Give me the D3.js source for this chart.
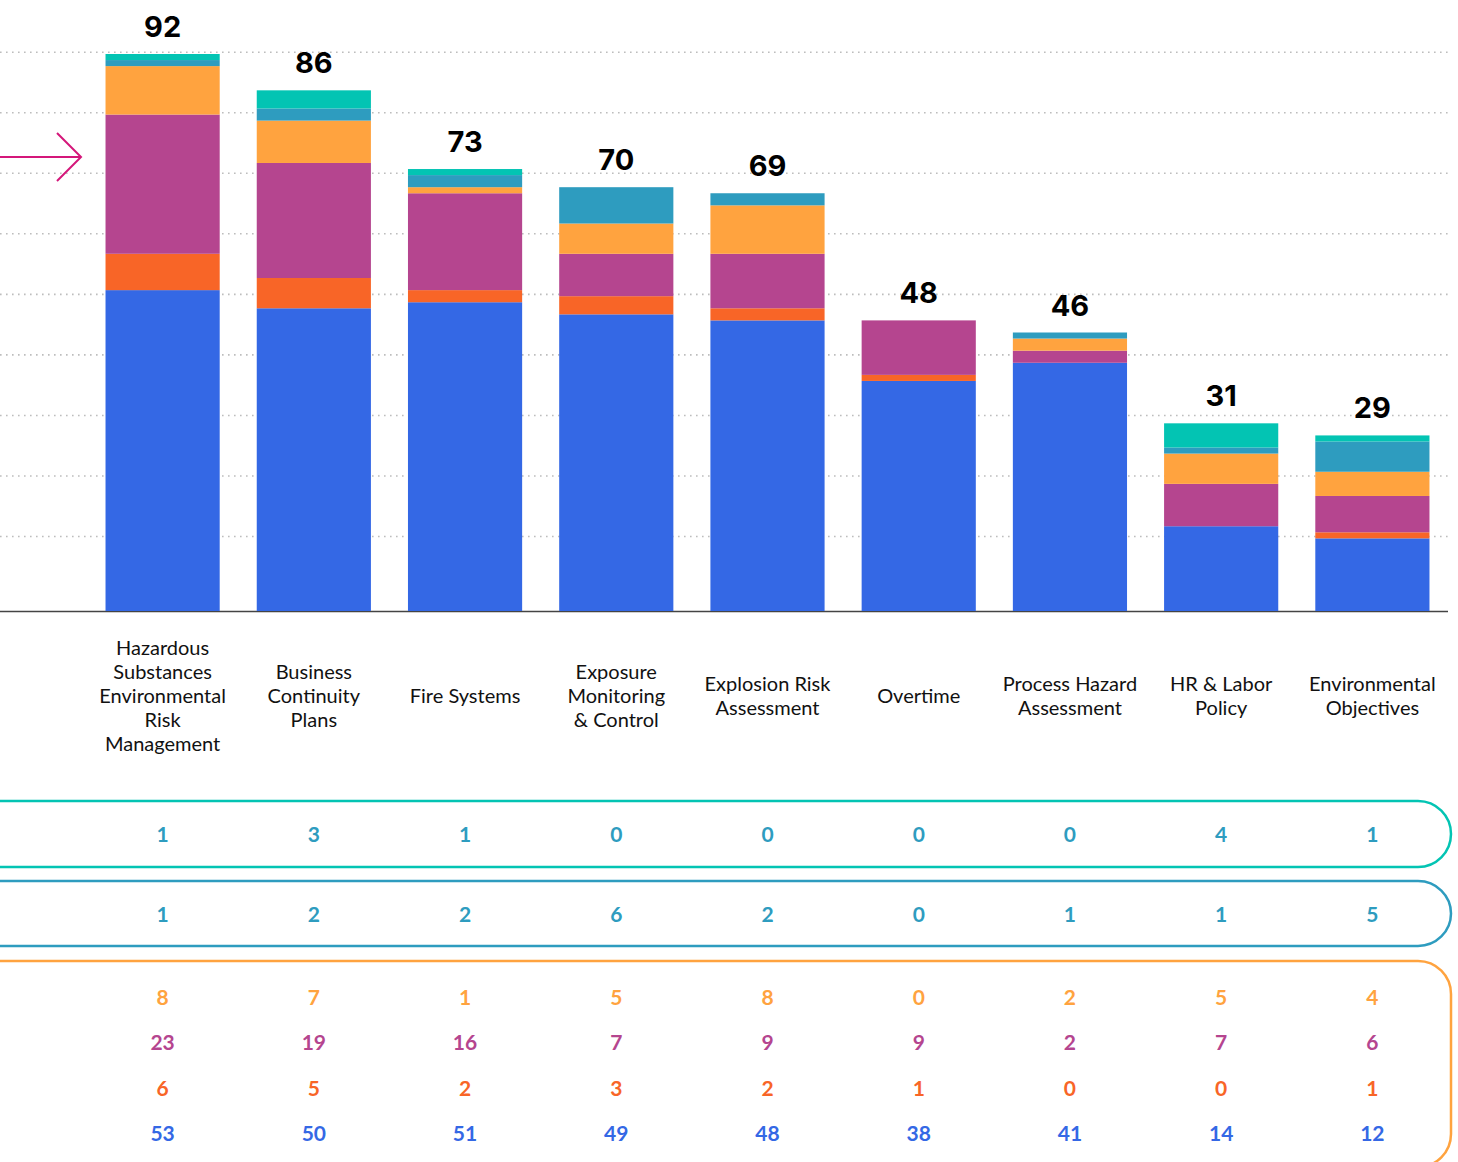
<!DOCTYPE html>
<html>
<head>
<meta charset="utf-8">
<script src="https://cdn.jsdelivr.net/npm/d3@7"></script>
<style>
  html, body { margin: 0; padding: 0; background: #fff; }
  svg { display: block; }
</style>
</head>
<body>
<svg id="chart" width="1458" height="1162"></svg>
<script>
// Categories (label lines as drawn under each bar)
const categories = [
  "Hazardous Substances Environmental Risk Management",
  "Business Continuity Plans",
  "Fire Systems",
  "Exposure Monitoring & Control",
  "Explosion Risk Assessment",
  "Overtime",
  "Process Hazard Assessment",
  "HR & Labor Policy",
  "Environmental Objectives"
];
const categoryLines = [
  ["Hazardous", "Substances", "Environmental", "Risk", "Management"],
  ["Business", "Continuity", "Plans"],
  ["Fire Systems"],
  ["Exposure", "Monitoring", "& Control"],
  ["Explosion Risk", "Assessment"],
  ["Overtime"],
  ["Process Hazard", "Assessment"],
  ["HR & Labor", "Policy"],
  ["Environmental", "Objectives"]
];

// Series values, stacked bottom to top
const seriesBlue     = [53, 50, 51, 49, 48, 38, 41, 14, 12];
const seriesRed      = [6, 5, 2, 3, 2, 1, 0, 0, 1];
const seriesPurple   = [23, 19, 16, 7, 9, 9, 2, 7, 6];
const seriesOrange   = [8, 7, 1, 5, 8, 0, 2, 5, 4];
const seriesTealBlue = [1, 2, 2, 6, 2, 0, 1, 1, 5];
const seriesTeal     = [1, 3, 1, 0, 0, 0, 0, 4, 1];

// Totals printed above the bars
const totals = [92, 86, 73, 70, 69, 48, 46, 31, 29];

// Dotted guide lines
const gridValues = [12.3, 22.3, 32.3, 42.3, 52.3, 62.3, 72.3, 82.3, 92.3];

const seriesKeys = ["blue", "red", "purple", "orange", "tealBlue", "teal"];
const seriesValues = {
  blue: seriesBlue, red: seriesRed, purple: seriesPurple,
  orange: seriesOrange, tealBlue: seriesTealBlue, teal: seriesTeal
};
const colors = {
  blue: "#3468e5", red: "#f86527", purple: "#b5458f",
  orange: "#ffa33f", tealBlue: "#2e9cbf", teal: "#03c4b3"
};

const rows = categories.map((c, i) => {
  const r = { category: c };
  seriesKeys.forEach(k => r[k] = seriesValues[k][i]);
  return r;
});

const svg = d3.select("#chart");

const x = d3.scaleBand()
  .domain(categories)
  .range([87, 1448])
  .paddingInner(0.245)
  .paddingOuter(0.1225);

const y = d3.scaleLinear()
  .domain([0, 92])
  .range([611, 54]);

// Guide lines
svg.append("g").selectAll("line")
  .data(gridValues)
  .join("line")
  .attr("x1", 0).attr("x2", 1448)
  .attr("y1", d => y(d)).attr("y2", d => y(d))
  .attr("stroke", "#bdbdbd")
  .attr("stroke-width", 1.6)
  .attr("stroke-dasharray", "1.6 4.4");

// Baseline
svg.append("line")
  .attr("x1", 0).attr("x2", 1448)
  .attr("y1", y(0) + 0.5).attr("y2", y(0) + 0.5)
  .attr("stroke", "#444")
  .attr("stroke-width", 1.5);

// Stacked bars
const stack = d3.stack().keys(seriesKeys);
const layers = stack(rows);

svg.append("g").selectAll("g")
  .data(layers)
  .join("g")
  .attr("fill", d => colors[d.key])
  .selectAll("rect")
  .data(d => d)
  .join("rect")
  .attr("x", d => x(d.data.category))
  .attr("width", x.bandwidth())
  .attr("y", d => y(d[1]))
  .attr("height", d => y(d[0]) - y(d[1]));

// Totals above bars
svg.append("g").selectAll("text")
  .data(totals)
  .join("text")
  .attr("x", (d, i) => x(categories[i]) + x.bandwidth() / 2)
  .attr("y", d => y(d) - 17)
  .attr("text-anchor", "middle")
  .attr("font-family", "Inter, 'Open Sans', sans-serif")
  .attr("font-weight", 700)
  .attr("font-size", 29)
  .attr("fill", "#000")
  .text(d => d);

// Category labels, one text element per line
const lineH = 24;
const labelGroups = svg.append("g")
  .attr("text-anchor", "middle")
  .attr("font-family", "Lato, 'Open Sans', sans-serif")
  .attr("font-size", 20)
  .attr("fill", "#111")
  .selectAll("g")
  .data(categoryLines)
  .join("g");
labelGroups.each(function (lines, i) {
  const cx = x(categories[i]) + x.bandwidth() / 2;
  const y0 = 703 - (lines.length - 1) * lineH / 2;
  d3.select(this).selectAll("text")
    .data(lines)
    .join("text")
    .attr("x", cx)
    .attr("y", (l, j) => y0 + j * lineH)
    .text(l => l);
});

// Pointer arrow
const arrow = svg.append("g")
  .attr("stroke", "#d4177a")
  .attr("stroke-width", 2)
  .attr("fill", "none");
arrow.append("line").attr("x1", 0).attr("x2", 81).attr("y1", 157).attr("y2", 157);
arrow.append("path").attr("d", "M57,133 L81,157 L57,181");

// Value table frames
const frames = [
  { top: 801, height: 66, color: "#03c4b3" },
  { top: 881, height: 65, color: "#2e9cbf" },
  { top: 961, height: 206, color: "#ffa33f" }
];
svg.append("g").selectAll("rect")
  .data(frames)
  .join("rect")
  .attr("x", -60)
  .attr("width", 1511)
  .attr("y", d => d.top)
  .attr("height", d => d.height)
  .attr("rx", 33).attr("ry", 33)
  .attr("fill", "none")
  .attr("stroke", d => d.color)
  .attr("stroke-width", 2.5);

// Value table rows
const tableRows = [
  { values: seriesTeal, color: "#2e9cbf", y: 842 },
  { values: seriesTealBlue, color: "#2e9cbf", y: 922 },
  { values: seriesOrange, color: "#ffa33f", y: 1005 },
  { values: seriesPurple, color: "#b5458f", y: 1050 },
  { values: seriesRed, color: "#f86527", y: 1096 },
  { values: seriesBlue, color: "#3468e5", y: 1141 }
];
const tg = svg.append("g")
  .attr("font-family", "Lato, 'Open Sans', sans-serif")
  .attr("font-weight", 700)
  .attr("font-size", 21)
  .attr("text-anchor", "middle");
tableRows.forEach(row => {
  tg.append("g").attr("fill", row.color)
    .selectAll("text")
    .data(row.values)
    .join("text")
    .attr("x", (d, i) => x(categories[i]) + x.bandwidth() / 2)
    .attr("y", row.y)
    .text(d => d);
});
</script>
</body>
</html>
